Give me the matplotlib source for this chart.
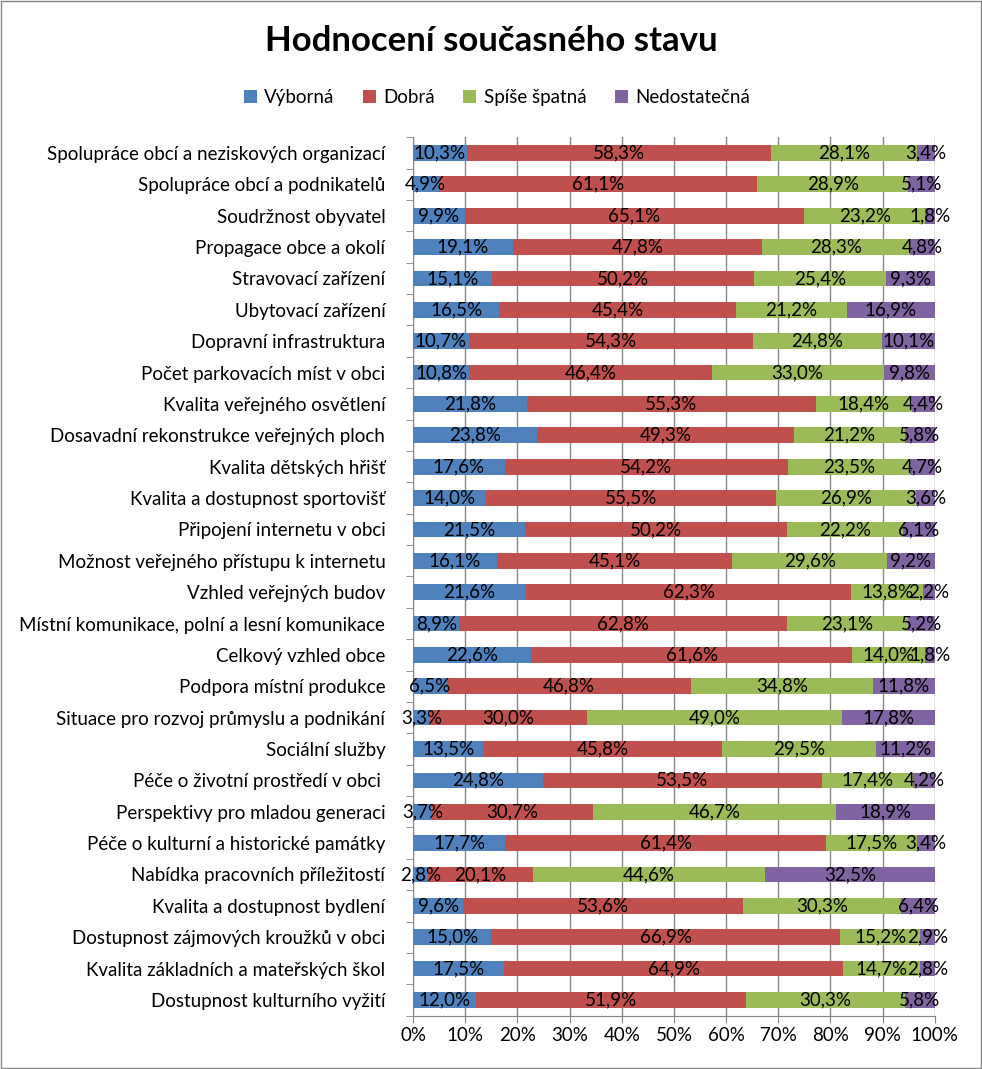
import matplotlib
matplotlib.use("Agg")
import matplotlib.pyplot as plt
import numpy as np

plt.rcParams['font.family'] = ['Lato', 'DejaVu Sans']

categories = [
    "Spolupráce obcí a neziskových organizací",
    "Spolupráce obcí a podnikatelů",
    "Soudržnost obyvatel",
    "Propagace obce a okolí",
    "Stravovací zařízení",
    "Ubytovací zařízení",
    "Dopravní infrastruktura",
    "Počet parkovacích míst v obci",
    "Kvalita veřejného osvětlení",
    "Dosavadní rekonstrukce veřejných ploch",
    "Kvalita dětských hřišť",
    "Kvalita a dostupnost sportovišť",
    "Připojení internetu v obci",
    "Možnost veřejného přístupu k internetu",
    "Vzhled veřejných budov",
    "Místní komunikace, polní a lesní komunikace",
    "Celkový vzhled obce",
    "Podpora místní produkce",
    "Situace pro rozvoj průmyslu a podnikání",
    "Sociální služby",
    "Péče o životní prostředí v obci ",
    "Perspektivy pro mladou generaci",
    "Péče o kulturní a historické památky",
    "Nabídka pracovních příležitostí",
    "Kvalita a dostupnost bydlení",
    "Dostupnost zájmových kroužků v obci",
    "Kvalita základních a mateřských škol",
    "Dostupnost kulturního vyžití",
]

vyborna = [10.3, 4.9, 9.9, 19.1, 15.1, 16.5, 10.7, 10.8, 21.8, 23.8, 17.6, 14.0, 21.5, 16.1,
           21.6, 8.9, 22.6, 6.5, 3.3, 13.5, 24.8, 3.7, 17.7, 2.8, 9.6, 15.0, 17.5, 12.0]
dobra = [58.3, 61.1, 65.1, 47.8, 50.2, 45.4, 54.3, 46.4, 55.3, 49.3, 54.2, 55.5, 50.2, 45.1,
         62.3, 62.8, 61.6, 46.8, 30.0, 45.8, 53.5, 30.7, 61.4, 20.1, 53.6, 66.9, 64.9, 51.9]
spise_spatna = [28.1, 28.9, 23.2, 28.3, 25.4, 21.2, 24.8, 33.0, 18.4, 21.2, 23.5, 26.9, 22.2, 29.6,
                13.8, 23.1, 14.0, 34.8, 49.0, 29.5, 17.4, 46.7, 17.5, 44.6, 30.3, 15.2, 14.7, 30.3]
nedostatecna = [3.4, 5.1, 1.8, 4.8, 9.3, 16.9, 10.1, 9.8, 4.4, 5.8, 4.7, 3.6, 6.1, 9.2,
                2.2, 5.2, 1.8, 11.8, 17.8, 11.2, 4.2, 18.9, 3.4, 32.5, 6.4, 2.9, 2.8, 5.8]

series = ["Výborná", "Dobrá", "Spíše špatná", "Nedostatečná"]
colors = ["#4F81BD", "#C0504D", "#9BBB59", "#8064A2"]

values = np.array([vyborna, dobra, spise_spatna, nedostatecna])
shares = values / values.sum(axis=0)

fig = plt.figure(figsize=(9.82, 10.69), dpi=100)
ax = fig.add_axes([0.4206, 0.0499, 0.952 - 0.4206, 0.8716 - 0.0499])

y = np.arange(len(categories))
left = np.zeros(len(categories))
for i, name in enumerate(series):
    bars = ax.barh(y, shares[i], left=left, height=0.5, color=colors[i], label=name, zorder=3)
    labels = [f"{v:.1f}%".replace(".", ",") for v in values[i]]
    ax.bar_label(bars, labels=labels, label_type="center", fontsize=13.5, color="black", zorder=4)
    left += shares[i]

ax.set_xlim(0, 1)
ax.set_ylim(len(categories) - 0.5, -0.5)
ax.set_yticks(y)
ax.set_yticklabels(categories, fontsize=13.5)
ax.set_yticks(np.arange(len(categories) + 1) - 0.5, minor=True)
ax.tick_params(axis="y", which="major", length=0, pad=20)
ax.tick_params(axis="y", which="minor", length=5, color="#868686")
ax.set_xticks(np.linspace(0, 1, 11))
ax.set_xticklabels([f"{int(t)}%" for t in np.arange(0, 101, 10)], fontsize=13.5)
ax.tick_params(axis="x", length=5, color="#868686")
ax.grid(axis="x", color="#868686", linewidth=1, zorder=0)

for s in ["top", "right"]:
    ax.spines[s].set_visible(False)
ax.spines["left"].set_color("#868686")
ax.spines["bottom"].set_color("#868686")

fig.text(0.5, 0.962, "Hodnocení současného stavu", ha="center", va="center",
         fontsize=25, fontweight="bold")
fig.legend(loc="center", bbox_to_anchor=(0.506, 0.909), ncol=4, frameon=False,
           fontsize=13.5, handlelength=0.7, handleheight=0.7, handletextpad=0.4,
           columnspacing=1.5)

fig.patches.append(plt.Rectangle((0.001, 0.001), 0.998, 0.998, transform=fig.transFigure,
                                 fill=False, edgecolor="#868686", linewidth=1))

fig.savefig("out.png", dpi=100)
